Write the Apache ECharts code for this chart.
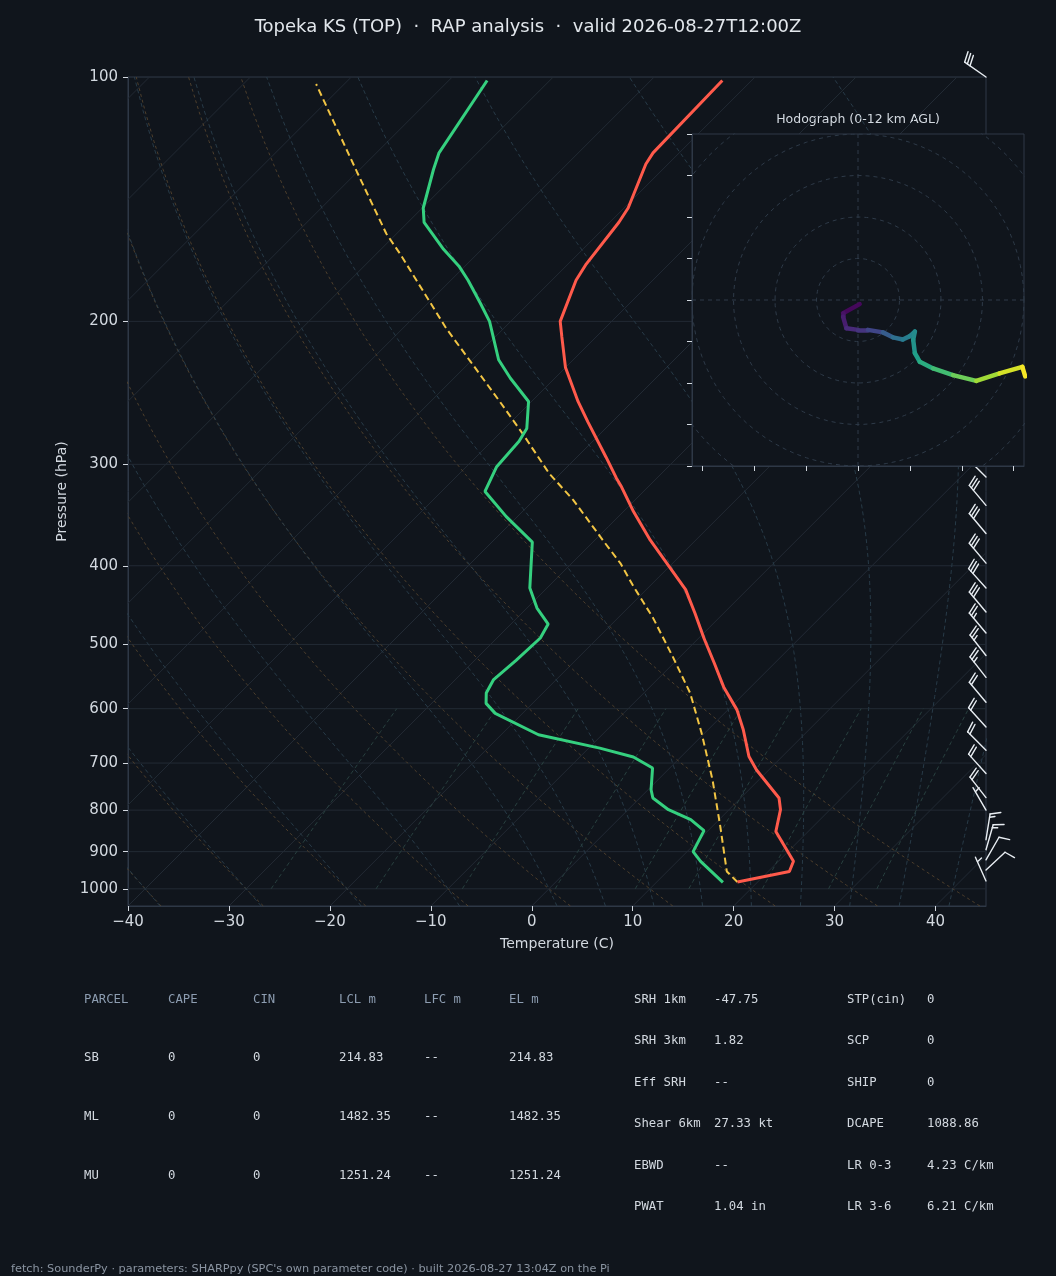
<!DOCTYPE html>
<html>
<head>
<meta charset="utf-8">
<title>Topeka KS skew-T</title>
<script src="https://cdn.jsdelivr.net/npm/echarts@6.0.0/dist/echarts.min.js"></script>
<style>
html, body { margin: 0; padding: 0; background: #10151c; }
#chart { width: 1056px; height: 1276px; }
</style>
</head>
<body>
<div id="chart"></div>
<script>
// ---- sounding (pressure hPa, temperature C) ----
const tempP = [101, 124, 128, 145, 151, 170, 178, 200, 209, 228, 251, 266, 294, 312, 320, 343, 372, 397, 428, 458, 491, 527, 564, 602, 637, 687, 714, 773, 799, 850, 925, 952, 981];
const tempT = [-62.9, -62.6, -62.2, -59.6, -59.1, -58.2, -57.6, -55.1, -53.4, -50.0, -45.4, -42.4, -37.1, -34.0, -32.6, -29.0, -24.5, -20.6, -16.1, -12.8, -9.5, -6.0, -2.7, 0.9, 3.5, 6.7, 8.8, 13.8, 15.1, 16.8, 21.5, 22.1, 18.0];

const dewP = [101, 124, 130, 145, 151, 163, 171, 178, 190, 200, 223, 235, 251, 271, 281, 302, 324, 348, 374, 426, 451, 472, 491, 523, 553, 574, 591, 608, 646, 671, 688, 710, 755, 773, 799, 822, 848, 900, 925, 982];
const dewT = [-86.2, -83.8, -82.7, -79.9, -78.4, -73.8, -70.6, -68.3, -64.8, -62.1, -57.4, -54.4, -50.3, -47.8, -47.3, -47.0, -45.7, -41.1, -36.0, -31.7, -29.0, -26.3, -25.7, -25.9, -26.2, -25.6, -24.6, -22.7, -16.3, -8.9, -4.7, -1.7, 0.3, 1.3, 4.0, 7.2, 9.6, 10.6, 12.3, 16.6];

// surface-based parcel trace
const parcelP = [981, 952, 838, 734, 643, 574, 518, 464, 424, 397, 372, 332, 308, 275, 250, 204, 165, 156, 131, 102];
const parcelT = [18.0, 15.9, 10.8, 5.4, -0.3, -5.4, -10.7, -16.5, -21.6, -25.2, -29.2, -36.1, -41.1, -47.7, -53.4, -65.7, -77.7, -81.0, -90.0, -102.8];

// wind barbs: direction (deg, from) and speed (kt)
const barbP = [100, 311, 337, 365, 397, 426, 456, 484, 516, 549, 589, 632, 675, 721, 772, 800, 870, 895, 921, 948, 978];
const barbDir = [305, 315, 320, 320, 320, 318, 320, 320, 322, 322, 320, 318, 315, 318, 322, 330, 9, 16, 30, 47, 336];
const barbSpd = [30, 30, 30, 30, 30, 30, 30, 25, 25, 25, 20, 20, 20, 20, 20, 5, 15, 15, 10, 10, 5];

// hodograph (u, v) and height km AGL
const hodoU = [0.4, -3.6, -3.6, -2.8, 0, 2.4, 6.0, 8.4, 10.8, 12.5, 13.7, 13.3, 13.7, 14.9, 18.1, 22.9, 28.5, 34.1, 39.6, 40.3];
const hodoV = [-1.0, -3.2, -4.0, -6.8, -7.2, -7.2, -7.8, -9.0, -9.5, -8.7, -7.6, -9.6, -12.8, -14.9, -16.5, -18.1, -19.5, -17.7, -16.1, -18.4];
const hodoH = [0, 0.5, 0.7, 1.2, 1.6, 2.0, 3.0, 4.0, 4.8, 5.3, 5.6, 5.9, 6.4, 7.0, 7.8, 8.8, 9.8, 10.8, 11.7, 12.0];

// ticks
const tempTicks = [-40, -30, -20, -10, 0, 10, 20, 30, 40];
const presTicks = [100, 200, 300, 400, 500, 600, 700, 800, 900, 1000];
const hodoXTicks = [-37.5, -25, -12.5, 0, 12.5, 25, 37.5];
const ringRadii = [10, 20, 30, 40, 50];

// reference lines
const isoTemps = [];
for (let t = -130; t <= 40; t += 10) isoTemps.push(t);
const dryThetas = [-40, -30, -20, -10, 0, 10, 20, 30, 40];
const moistT0 = [-40, -30, -20, -10, 0, 5, 10, 15, 20, 25, 30, 35, 40, 45];
const mixRatios = [0.0004, 0.001, 0.002, 0.004, 0.007, 0.01, 0.016, 0.024, 0.032];

// table text
const parcelHeader = ['PARCEL', 'CAPE', 'CIN', 'LCL m', 'LFC m', 'EL m'];
const parcelRows = [
  ['SB', '0', '0', '214.83', '--', '214.83'],
  ['ML', '0', '0', '1482.35', '--', '1482.35'],
  ['MU', '0', '0', '1251.24', '--', '1251.24']
];
const paramsLeft = [['SRH 1km', '-47.75'], ['SRH 3km', '1.82'], ['Eff SRH', '--'], ['Shear 6km', '27.33 kt'], ['EBWD', '--'], ['PWAT', '1.04 in']];
const paramsRight = [['STP(cin)', '0'], ['SCP', '0'], ['SHIP', '0'], ['DCAPE', '1088.86'], ['LR 0-3', '4.23 C/km'], ['LR 3-6', '6.21 C/km']];

const titleText = 'Topeka KS (TOP)  \u00b7  RAP analysis  \u00b7  valid 2026-08-27T12:00Z';
const footerText = 'fetch: SounderPy \u00b7 parameters: SHARPpy (SPC\'s own parameter code) \u00b7 built 2026-08-27 13:04Z on the Pi';

// ---- layout ----
const BG = '#10151c';
const FRAME = '#2e3846';
const GRIDLINE = '#222a34';
const TXT = '#d3d9e0';
const MAIN = { left: 128, top: 77, width: 858, height: 829 };
const HODO = { left: 692, top: 134, width: 332, height: 332 };
const X_MIN = -40, X_MAX = 45, P_TOP = 100, P_BOT = 1050;

// 45 degree skew: degrees of x per decade of pressure
const SKEW = (MAIN.height / Math.log10(P_BOT / P_TOP)) / (MAIN.width / (X_MAX - X_MIN));
function skx(t, p) { return t + SKEW * Math.log10(P_BOT / p); }

// thermo helpers for background lines
const RD = 287.04749, CP = 1004.6662, LV = 2.50084e6, EPS = 0.622, KAPPA = 0.2857;
function satVap(tc) { return 6.112 * Math.exp(17.67 * tc / (tc + 243.5)); }
function moistSlope(tk, p) {
  const es = satVap(tk - 273.15);
  const rs = EPS * es / (p - es);
  return (RD * tk + LV * rs) / (CP + LV * LV * rs * EPS / (RD * tk * tk)) / p;
}
function moistLine(t0) {
  const up = [];
  let tk = t0 + 273.15, p = 1000;
  up.push([tk, p]);
  while (p > 100.001) {
    const dp = -10;
    const k1 = moistSlope(tk, p);
    const k2 = moistSlope(tk + k1 * dp / 2, p + dp / 2);
    tk += k2 * dp; p += dp;
    up.push([tk, p]);
  }
  const down = [];
  tk = t0 + 273.15; p = 1000;
  while (p < P_BOT - 0.001) {
    const dp = 10;
    const k1 = moistSlope(tk, p);
    const k2 = moistSlope(tk + k1 * dp / 2, p + dp / 2);
    tk += k2 * dp; p += dp;
    down.unshift([tk, p]);
  }
  return down.concat(up).map(([k, pp]) => [skx(k - 273.15, pp), pp]);
}
function dryLine(theta) {
  const pts = [];
  for (let p = P_BOT; p >= P_TOP; p -= 10) {
    const t = (theta + 273.15) * Math.pow(p / 1000, KAPPA) - 273.15;
    pts.push([skx(t, p), p]);
  }
  return pts;
}
function mixLine(w) {
  const pts = [];
  for (let p = 1000; p >= 600; p -= 20) {
    const e = w * p / (EPS + w);
    const l = Math.log(e / 6.112);
    const td = 243.5 * l / (17.67 - l);
    pts.push([skx(td, p), p]);
  }
  return pts;
}
function ring(r) {
  const pts = [];
  for (let a = 0; a <= 360; a += 4) pts.push([r * Math.cos(a * Math.PI / 180), r * Math.sin(a * Math.PI / 180)]);
  return pts;
}
const fmtMinus = v => (v < 0 ? '\u2212' + (-v) : String(v));

// viridis colour for the hodograph height
const VIRIDIS = ['#440154', '#482878', '#3e4989', '#31688e', '#26828e', '#1f9e89', '#35b779', '#6ece58', '#b5de2b', '#fde725'];
function hexRgb(h) { return [1, 3, 5].map(i => parseInt(h.substr(i, 2), 16)); }
function viridis(t) {
  t = Math.max(0, Math.min(1, t));
  const f = t * (VIRIDIS.length - 1);
  const i = Math.min(VIRIDIS.length - 2, Math.floor(f));
  const a = hexRgb(VIRIDIS[i]), b = hexRgb(VIRIDIS[i + 1]);
  const k = f - i;
  return 'rgb(' + a.map((c, j) => Math.round(c + (b[j] - c) * k)).join(',') + ')';
}

function bgLines(name, coordsList, style, xi, yi, z) {
  return {
    type: 'lines', name, coordinateSystem: 'cartesian2d', xAxisIndex: xi, yAxisIndex: yi,
    polyline: true, clip: true, silent: true, z,
    lineStyle: style,
    data: coordsList.map(c => ({ coords: c }))
  };
}

// wind barb drawn in pixel space at the right edge of the skew-T
const BARB_L = 26;
function renderBarb(params, api) {
  const base = api.coord([api.value(0), api.value(1)]);
  const rad = api.value(2) * Math.PI / 180;
  const spd = Math.round(api.value(3) / 5) * 5;
  const s = [Math.sin(rad), -Math.cos(rad)];
  const n = [-s[1], s[0]];
  const H = 0.4 * BARB_L, W = 0.25 * BARB_L, SP = 0.125 * BARB_L;
  const style = { stroke: '#e8edf2', lineWidth: 1.4, lineCap: 'round' };
  const tip = [base[0] + s[0] * BARB_L, base[1] + s[1] * BARB_L];
  const kids = [{ type: 'line', shape: { x1: base[0], y1: base[1], x2: tip[0], y2: tip[1] }, style }];
  const full = Math.floor(spd / 10);
  const half = (spd % 10) >= 5;
  let off = BARB_L;
  for (let i = 0; i < full; i++) {
    const px = base[0] + s[0] * off, py = base[1] + s[1] * off;
    kids.push({ type: 'line', shape: { x1: px, y1: py, x2: px + n[0] * H + s[0] * W / 2, y2: py + n[1] * H + s[1] * W / 2 }, style });
    off -= SP;
  }
  if (half) {
    if (full === 0) off -= 1.5 * SP;
    const px = base[0] + s[0] * off, py = base[1] + s[1] * off;
    kids.push({ type: 'line', shape: { x1: px, y1: py, x2: px + n[0] * H / 2 + s[0] * W / 4, y2: py + n[1] * H / 2 + s[1] * W / 4 }, style });
  }
  return { type: 'group', children: kids };
}

// ---- text (title, table, footer) ----
const MONO = '"DejaVu Sans Mono", monospace';
const SANS = '"DejaVu Sans", sans-serif';
const graphics = [];
function txt(x, y, text, size, color, family, align) {
  graphics.push({ type: 'text', x, y, silent: true, style: { text, fill: color, font: size + 'px ' + family, textAlign: align || 'left', textVerticalAlign: 'middle' } });
}
txt(528, 27, titleText, 18, '#e2e7ec', SANS, 'center');
txt(858, 120, 'Hodograph (0-12 km AGL)', 12.5, TXT, SANS, 'center');
const colX = [84, 168, 253, 339, 424, 509];
const rowY = [1000, 1058, 1117, 1176];
parcelHeader.forEach((h, i) => txt(colX[i], rowY[0], h, 12.3, '#8d9db1', MONO));
parcelRows.forEach((r, j) => r.forEach((c, i) => txt(colX[i], rowY[j + 1], c, 12.3, TXT, MONO)));
const pRowY = [1000, 1041, 1083, 1124, 1166, 1207];
paramsLeft.forEach((r, j) => { txt(634, pRowY[j], r[0], 12.3, TXT, MONO); txt(714, pRowY[j], r[1], 12.3, TXT, MONO); });
paramsRight.forEach((r, j) => { txt(847, pRowY[j], r[0], 12.3, TXT, MONO); txt(927, pRowY[j], r[1], 12.3, TXT, MONO); });
txt(11, 1269, footerText, 11.3, '#8a94a1', SANS);

// hodograph as short coloured segments
const hodoSegs = [];
for (let i = 0; i < hodoU.length - 1; i++) {
  hodoSegs.push({
    coords: [[hodoU[i], hodoV[i]], [hodoU[i + 1], hodoV[i + 1]]],
    lineStyle: { color: viridis((hodoH[i] + hodoH[i + 1]) / 2 / 12) }
  });
}

// ---- chart ----
const option = {
  backgroundColor: BG,
  animation: false,
  textStyle: { fontFamily: 'DejaVu Sans' },
  grid: [
    { left: MAIN.left, top: MAIN.top, width: MAIN.width, height: MAIN.height, show: true, borderColor: FRAME, borderWidth: 1, backgroundColor: 'transparent', z: 0 },
    { left: HODO.left, top: HODO.top, width: HODO.width, height: HODO.height, show: true, borderColor: FRAME, borderWidth: 1, backgroundColor: BG, z: 10 }
  ],
  xAxis: [
    {
      gridIndex: 0, type: 'value', min: X_MIN, max: X_MAX,
      name: 'Temperature (C)', nameLocation: 'middle', nameGap: 31,
      nameTextStyle: { color: TXT, fontSize: 14, fontFamily: 'DejaVu Sans' },
      axisLine: { show: true, onZero: false, lineStyle: { color: FRAME } },
      axisTick: { show: true, customValues: tempTicks, length: 5, lineStyle: { color: TXT } },
      axisLabel: { customValues: tempTicks, formatter: fmtMinus, color: TXT, fontSize: 15, margin: 9, fontFamily: 'DejaVu Sans' },
      splitLine: { show: false }
    },
    {
      gridIndex: 1, type: 'value', min: -40, max: 40, z: 11,
      axisLine: { show: true, onZero: false, lineStyle: { color: FRAME } },
      axisTick: { show: true, customValues: hodoXTicks, length: 5, lineStyle: { color: TXT } },
      axisLabel: { show: false },
      splitLine: { show: false }
    }
  ],
  yAxis: [
    {
      gridIndex: 0, type: 'log', logBase: 10, min: P_TOP, max: P_BOT, inverse: true,
      name: 'Pressure (hPa)', nameLocation: 'middle', nameGap: 58,
      nameTextStyle: { color: TXT, fontSize: 14, fontFamily: 'DejaVu Sans' },
      axisLine: { show: true, onZero: false, lineStyle: { color: FRAME } },
      axisTick: { show: true, customValues: presTicks, length: 5, lineStyle: { color: TXT } },
      axisLabel: { customValues: presTicks, formatter: v => String(Math.round(v)), color: TXT, fontSize: 15, margin: 10, fontFamily: 'DejaVu Sans' },
      splitLine: { show: false }
    },
    {
      gridIndex: 1, type: 'value', min: -40, max: 40, interval: 10, z: 11,
      axisLine: { show: true, onZero: false, lineStyle: { color: FRAME } },
      axisTick: { show: true, length: 5, lineStyle: { color: TXT } },
      axisLabel: { show: false },
      splitLine: { show: false }
    }
  ],
  graphic: { elements: graphics },
  series: [
    bgLines('rings', ringRadii.map(ring), { color: '#2e3a48', width: 1, type: [4, 4], opacity: 1 }, 1, 1, 12),
    bgLines('cross', [[[-40, 0], [40, 0]], [[0, -40], [0, 40]]], { color: '#2e3a48', width: 1, type: [4, 4], opacity: 1 }, 1, 1, 12),
    {
      type: 'lines', name: 'hodograph', coordinateSystem: 'cartesian2d', xAxisIndex: 1, yAxisIndex: 1,
      clip: true, silent: true, z: 13,
      lineStyle: { width: 4.5, opacity: 1, cap: 'round', join: 'round' },
      data: hodoSegs
    },
    bgLines('isobars', presTicks.map(p => [[X_MIN, p], [X_MAX, p]]), { color: GRIDLINE, width: 1, opacity: 1 }, 0, 0, 1),
    bgLines('isotherms', isoTemps.map(t => [[skx(t, P_BOT), P_BOT], [skx(t, P_TOP), P_TOP]]), { color: GRIDLINE, width: 1, opacity: 1 }, 0, 0, 1),
    bgLines('dry adiabats', dryThetas.map(dryLine), { color: '#54442f', width: 1, type: [3, 3], opacity: 0.9 }, 0, 0, 1),
    bgLines('moist adiabats', moistT0.map(moistLine), { color: '#283b48', width: 1, type: [4, 3], opacity: 1 }, 0, 0, 1),
    bgLines('mixing ratio', mixRatios.map(mixLine), { color: '#28403f', width: 1, type: [4, 3], opacity: 1 }, 0, 0, 1),
    {
      type: 'line', name: 'parcel', xAxisIndex: 0, yAxisIndex: 0, z: 3, silent: true,
      data: parcelP.map((p, i) => [skx(parcelT[i], p), p]),
      symbol: 'none', lineStyle: { color: '#f2c544', width: 2, type: [7, 4] }
    },
    {
      type: 'line', name: 'dewpoint', xAxisIndex: 0, yAxisIndex: 0, z: 3, silent: true,
      data: dewP.map((p, i) => [skx(dewT[i], p), p]),
      symbol: 'none', lineStyle: { color: '#35d07f', width: 3 }
    },
    {
      type: 'line', name: 'temperature', xAxisIndex: 0, yAxisIndex: 0, z: 3, silent: true,
      data: tempP.map((p, i) => [skx(tempT[i], p), p]),
      symbol: 'none', lineStyle: { color: '#ff5a4b', width: 3 }
    },
    {
      type: 'custom', name: 'barbs', xAxisIndex: 0, yAxisIndex: 0, z: 4, silent: true, clip: false,
      data: barbP.map((p, i) => [X_MAX, p, barbDir[i], barbSpd[i]]),
      encode: { x: 0, y: 1 },
      renderItem: renderBarb
    }
  ]
};

const chart = echarts.init(document.getElementById('chart'));
chart.setOption(option);
</script>
</body>
</html>
